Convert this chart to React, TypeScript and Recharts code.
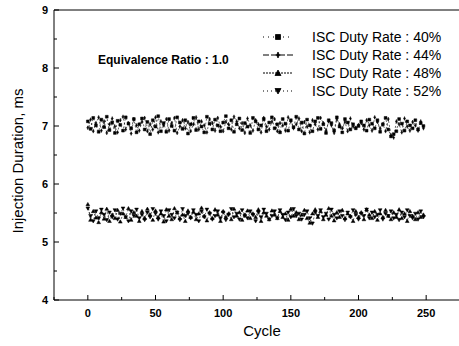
import React from 'react';
import { LineChart, Line, XAxis, YAxis, ReferenceLine } from 'recharts';

const seriesNames = ['ISC Duty Rate : 40%', 'ISC Duty Rate : 44%', 'ISC Duty Rate : 48%', 'ISC Duty Rate : 52%'];
const xTicks = [-25, 0, 25, 50, 75, 100, 125, 150, 175, 200, 225, 250, 275];
const yTicks = [4, 4.5, 5, 5.5, 6, 6.5, 7, 7.5, 8, 8.5, 9];

const duty40 = [
  7.08,6.95,7.14,7.01,6.90,7.11,6.98,7.16,6.93,7.06,
  6.88,7.09,7.02,6.92,7.15,7.04,6.96,7.12,6.89,7.03,
  7.13,6.94,7.07,6.86,7.10,6.99,7.17,6.91,7.05,6.90,
  7.12,7.00,6.92,7.15,7.06,6.95,7.10,6.87,7.03,7.14,
  6.93,7.08,6.99,6.89,7.16,7.04,6.94,7.11,7.01,6.91,
  7.06,7.17,6.96,7.10,6.90,7.03,7.13,6.93,7.05,6.99,
  6.88,7.14,7.08,6.94,7.01,7.12,6.91,7.06,7.15,6.96,
  7.03,6.89,7.12,7.04,6.92,7.10,6.98,7.16,6.94,7.06,
  6.87,7.11,7.01,6.91,7.08,7.14,6.95,7.03,6.88,7.10,
  7.05,6.92,7.15,6.99,6.89,7.12,7.06,6.94,7.03,6.96,
  7.00,7.08,7.01,6.92,7.11,7.04,6.96,7.10,6.90,7.03,
  7.14,6.94,6.82,6.86,6.91,7.12,7.04,6.92,7.08,7.01,
  6.96,7.10,6.94,7.05,7.00
];
const duty44 = [
  6.97,7.11,6.91,7.05,7.15,6.92,7.08,6.88,7.03,7.13,
  6.99,6.89,7.10,7.16,6.94,7.05,6.87,7.12,7.01,6.92,
  7.07,7.14,6.91,7.03,6.94,7.15,6.89,7.08,7.01,7.12,
  6.92,7.05,7.14,6.88,6.99,7.10,6.96,7.07,6.91,7.03,
  7.15,6.94,7.08,7.01,6.89,7.12,7.05,6.92,7.14,6.99,
  6.91,7.07,7.03,6.94,7.16,7.08,6.96,7.05,6.88,7.13,
  7.01,6.92,7.10,7.03,6.89,7.14,6.99,6.94,7.07,7.12,
  6.91,7.05,7.01,6.92,7.15,7.08,6.96,7.03,7.13,6.91,
  7.07,6.99,6.89,7.10,7.03,6.94,7.14,7.05,6.92,7.08,
  7.01,6.88,7.12,7.03,6.96,7.07,6.91,7.13,6.99,6.97,
  7.02,7.05,6.94,7.10,7.01,6.92,7.15,7.07,6.96,7.03,
  6.91,7.12,6.84,6.80,7.08,7.03,6.89,7.13,6.99,6.92,
  7.07,7.01,6.92,7.08,6.96
];
const duty48 = [
  5.65,5.38,5.53,5.42,5.34,5.51,5.40,5.57,5.36,5.47,
  5.41,5.55,5.35,5.49,5.43,5.58,5.38,5.51,5.45,5.36,
  5.53,5.41,5.57,5.47,5.38,5.54,5.43,5.49,5.35,5.56,
  5.45,5.39,5.58,5.51,5.41,5.47,5.36,5.54,5.43,5.52,
  5.39,5.49,5.59,5.45,5.37,5.51,5.41,5.56,5.47,5.36,
  5.53,5.43,5.49,5.39,5.57,5.45,5.51,5.38,5.47,5.54,
  5.41,5.49,5.43,5.56,5.36,5.51,5.45,5.39,5.54,5.47,
  5.41,5.53,5.43,5.49,5.38,5.57,5.45,5.51,5.39,5.47,
  5.55,5.41,5.33,5.49,5.56,5.43,5.53,5.39,5.47,5.58,
  5.45,5.37,5.51,5.43,5.55,5.41,5.49,5.45,5.36,5.53,
  5.43,5.51,5.39,5.56,5.47,5.41,5.53,5.38,5.49,5.43,
  5.55,5.45,5.39,5.51,5.43,5.56,5.41,5.49,5.36,5.53,
  5.45,5.39,5.51,5.43,5.47
];
const duty52 = [
  5.58,5.45,5.36,5.53,5.41,5.56,5.47,5.38,5.51,5.43,
  5.55,5.39,5.49,5.58,5.43,5.36,5.53,5.45,5.56,5.41,
  5.47,5.38,5.51,5.43,5.57,5.49,5.39,5.53,5.45,5.36,
  5.55,5.47,5.41,5.51,5.38,5.57,5.45,5.49,5.41,5.55,
  5.47,5.36,5.53,5.43,5.56,5.49,5.39,5.45,5.53,5.41,
  5.51,5.38,5.47,5.57,5.43,5.49,5.39,5.55,5.45,5.41,
  5.53,5.47,5.36,5.51,5.43,5.56,5.49,5.39,5.45,5.53,
  5.41,5.55,5.47,5.38,5.51,5.43,5.57,5.45,5.49,5.39,
  5.47,5.53,5.41,5.32,5.51,5.45,5.55,5.43,5.49,5.39,
  5.56,5.47,5.41,5.53,5.45,5.38,5.51,5.43,5.55,5.47,
  5.39,5.49,5.45,5.56,5.41,5.51,5.43,5.47,5.55,5.39,
  5.49,5.45,5.53,5.41,5.47,5.38,5.51,5.43,5.55,5.45,
  5.41,5.49,5.39,5.53,5.43
];

const cycles = duty40.map((_, i) => i * 2);
const data = cycles.map((c, i) => ({ cycle: c, d40: duty40[i], d44: duty44[i], d48: duty48[i], d52: duty52[i] }));

const FONT = '"Liberation Sans", Arial, sans-serif';

type Shape = 'square' | 'star' | 'up' | 'down';

const markerPath = (shape: Shape, cx: number, cy: number, r: number) => {
  if (shape === 'square') return `M${cx - r},${cy - r}h${2 * r}v${2 * r}h${-2 * r}Z`;
  if (shape === 'up') return `M${cx},${cy - r - 0.5}L${cx + r + 0.5},${cy + r}L${cx - r - 0.5},${cy + r}Z`;
  if (shape === 'down') return `M${cx},${cy + r + 0.5}L${cx + r + 0.5},${cy - r}L${cx - r - 0.5},${cy - r}Z`;
  return `M${cx},${cy - r - 0.5}L${cx + r * 0.5},${cy}L${cx},${cy + r + 0.5}L${cx - r * 0.5},${cy}Z M${cx - r},${cy}h${2 * r}`;
};

const makeDot = (shape: Shape) => (props: any) => {
  const { cx, cy, index } = props;
  if (cx == null || cy == null) return <g key={index} />;
  return <path key={index} d={markerPath(shape, cx, cy, 1.4)} fill="#000" stroke="#000" strokeWidth={0.5} />;
};

const XTick = (props: any) => {
  const { x, y, payload } = props;
  const v = payload.value;
  const major = v % 50 === 0;
  return (
    <g>
      <line x1={x} x2={x} y1={y} y2={y - (major ? 5 : 3)} stroke="#000" strokeWidth={1} />
      {major && v >= 0 && v <= 250 && (
        <text x={x} y={y + 17} textAnchor="middle" fontFamily={FONT} fontWeight="bold" fontSize={11} fill="#000">{v}</text>
      )}
    </g>
  );
};

const YTick = (props: any) => {
  const { x, y, payload } = props;
  const v = payload.value;
  const major = Number.isInteger(v);
  return (
    <g>
      <line x1={x} x2={x + (major ? 5 : 3)} y1={y} y2={y} stroke="#000" strokeWidth={1} />
      {major && (
        <text x={x - 6} y={y + 4} textAnchor="end" fontFamily={FONT} fontWeight="bold" fontSize={11} fill="#000">{v}</text>
      )}
    </g>
  );
};

const legendShapes: Shape[] = ['square', 'star', 'up', 'down'];
const legendDashes = ['1 3 0 1', '6 2', '2 1', '1 3'];

export default function App() {
  return (
    <div style={{ position: 'absolute', left: 0, top: 0, width: 459, height: 346, overflow: 'hidden', background: '#fff', fontFamily: FONT }}>
      <LineChart width={470} height={346} data={data} margin={{ top: 10, right: 10, bottom: 0, left: 0 }}>
        <XAxis dataKey="cycle" type="number" domain={[-25, 275]} ticks={xTicks} height={46}
          axisLine={{ stroke: '#000', strokeWidth: 1 }} tickLine={false} tickSize={0} tickMargin={0} tick={<XTick />} interval={0} />
        <YAxis type="number" domain={[4, 9]} ticks={yTicks} width={54}
          axisLine={{ stroke: '#000', strokeWidth: 1 }} tickLine={false} tickSize={0} tickMargin={0} tick={<YTick />} interval={0} />
        <ReferenceLine y={9} stroke="#000" strokeWidth={1} ifOverflow="visible" />
        <ReferenceLine x={275} stroke="#000" strokeWidth={1} ifOverflow="visible" />
        <Line dataKey="d40" stroke="#000" strokeWidth={0.6} strokeDasharray="2 2" dot={makeDot('square')} isAnimationActive={false} />
        <Line dataKey="d44" stroke="#000" strokeWidth={0.6} strokeDasharray="2 2" dot={makeDot('star')} isAnimationActive={false} />
        <Line dataKey="d48" stroke="#000" strokeWidth={0.6} strokeDasharray="2 2" dot={makeDot('up')} isAnimationActive={false} />
        <Line dataKey="d52" stroke="#000" strokeWidth={0.6} strokeDasharray="2 2" dot={makeDot('down')} isAnimationActive={false} />
      </LineChart>

      <div style={{ position: 'absolute', left: 17, top: 161, transform: 'translate(-50%, -50%) rotate(-90deg)', whiteSpace: 'nowrap', fontSize: 15, color: '#000' }}>
        Injection Duration, ms
      </div>
      <div style={{ position: 'absolute', left: 262, top: 330, transform: 'translate(-50%, -50%)', whiteSpace: 'nowrap', fontSize: 15, color: '#000' }}>
        Cycle
      </div>
      <div style={{ position: 'absolute', left: 98, top: 60, transform: 'translateY(-50%)', whiteSpace: 'nowrap', fontSize: 12, fontWeight: 'bold', color: '#000' }}>
        Equivalence Ratio : 1.0
      </div>
      {seriesNames.map((name, i) => (
        <div key={name} style={{ position: 'absolute', left: 262, top: 37 + i * 18, transform: 'translateY(-50%)', display: 'flex', alignItems: 'center', whiteSpace: 'nowrap' }}>
          <svg width={32} height={10} style={{ display: 'block' }}>
            <line x1={1} x2={31} y1={5} y2={5} stroke="#000" strokeWidth={1} strokeDasharray={legendDashes[i]} />
            <path d={markerPath(legendShapes[i], 16, 5, 2.5)} fill="#000" stroke="#000" strokeWidth={0.8} />
          </svg>
          <span style={{ marginLeft: 18, fontSize: 14, color: '#000' }}>{name}</span>
        </div>
      ))}
    </div>
  );
}
